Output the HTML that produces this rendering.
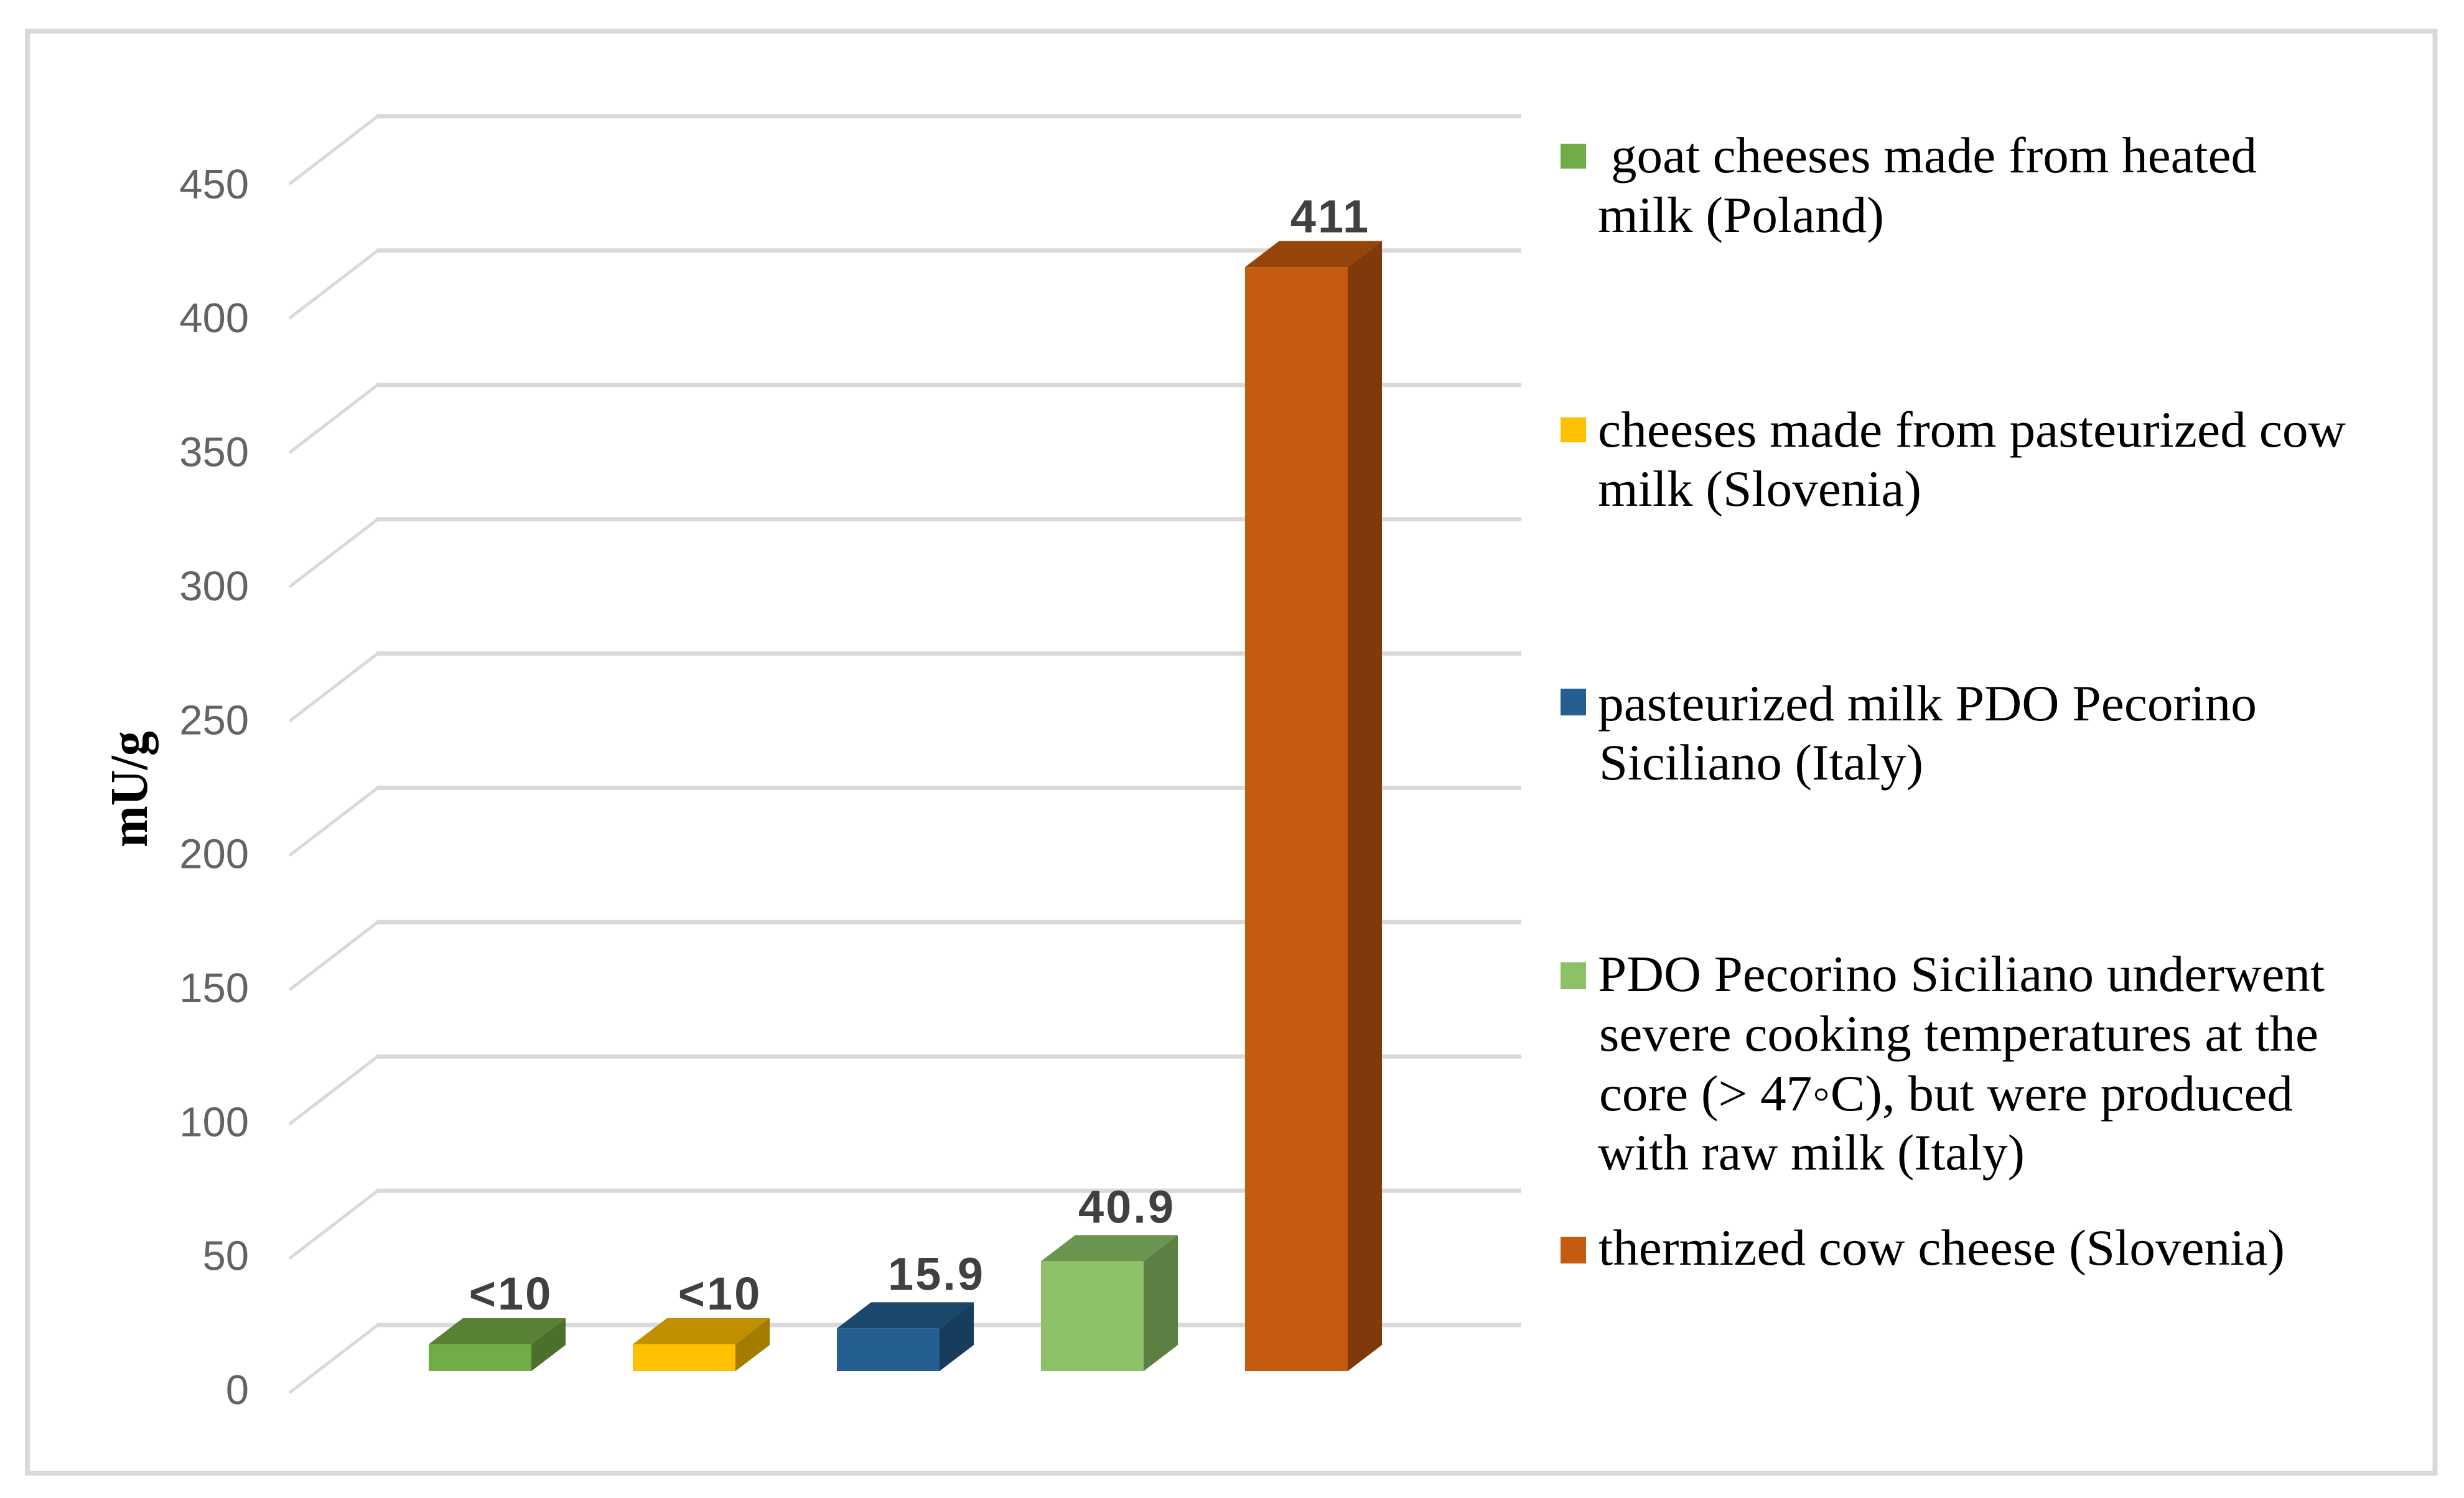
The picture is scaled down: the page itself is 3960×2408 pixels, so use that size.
<!DOCTYPE html>
<html lang="en">
<head>
<meta charset="utf-8">
<title>mU/g by cheese type</title>
<style>
html,body{margin:0;padding:0;background:#fff;width:3960px;height:2408px;overflow:hidden}
svg{display:block}
.tick{font-family:"Liberation Sans",sans-serif;font-size:67px;fill:#636363;text-anchor:end}
.dl{font-family:"Liberation Sans",sans-serif;font-size:74px;font-weight:700;fill:#404040;text-anchor:middle;letter-spacing:3px}
.lg{font-family:"Liberation Serif",serif;font-size:82px;fill:#000}
</style>
</head>
<body>
<svg id="chart" xmlns="http://www.w3.org/2000/svg" width="3960" height="2408" viewBox="0 0 3960 2408">
  <rect x="0" y="0" width="3960" height="2408" fill="#ffffff"/>
  <rect x="44" y="50" width="3869.5" height="2318" fill="#ffffff" stroke="#d9d9d9" stroke-width="8"/>
  <g id="grid"></g>
  <g id="ticks"></g>
  <g id="bars"></g>
  <g id="labels"></g>
  <text transform="translate(236 1268.5) rotate(-90)" text-anchor="middle" font-family="'Liberation Serif',serif" font-size="86" font-weight="700" fill="#000" textLength="187" lengthAdjust="spacingAndGlyphs">mU/g</text>

  <g>
    <g>
      <rect x="2508" y="231" width="41" height="40" fill="#70ad47"/>
      <text class="lg" x="2589" y="277" textLength="1038" lengthAdjust="spacingAndGlyphs">goat cheeses made from heated</text>
      <text class="lg" x="2568" y="373" textLength="460" lengthAdjust="spacingAndGlyphs">milk (Poland)</text>
    </g>
    <g>
      <rect x="2508" y="671" width="41" height="40" fill="#ffc000"/>
      <text class="lg" x="2568" y="718" textLength="1202" lengthAdjust="spacingAndGlyphs">cheeses made from pasteurized cow</text>
      <text class="lg" x="2568" y="813" textLength="520" lengthAdjust="spacingAndGlyphs">milk (Slovenia)</text>
    </g>
    <g>
      <rect x="2508" y="1107" width="41" height="43" fill="#255e91"/>
      <text class="lg" x="2568" y="1158" textLength="1059" lengthAdjust="spacingAndGlyphs">pasteurized milk PDO Pecorino</text>
      <text class="lg" x="2570" y="1253" textLength="521" lengthAdjust="spacingAndGlyphs">Siciliano (Italy)</text>
    </g>
    <g>
      <rect x="2508" y="1547" width="41" height="43" fill="#8cc168"/>
      <text class="lg" x="2568" y="1593" textLength="1168" lengthAdjust="spacingAndGlyphs">PDO Pecorino Siciliano underwent</text>
      <text class="lg" x="2570" y="1689" textLength="1156" lengthAdjust="spacingAndGlyphs">severe cooking temperatures at the</text>
      <text class="lg" x="2570" y="1785" textLength="1115" lengthAdjust="spacingAndGlyphs">core (&gt; 47◦C), but were produced</text>
      <text class="lg" x="2568" y="1880" textLength="686" lengthAdjust="spacingAndGlyphs">with raw milk (Italy)</text>
    </g>
    <g>
      <rect x="2508" y="1988" width="41" height="43" fill="#c55a11"/>
      <text class="lg" x="2569" y="2033" textLength="1103" lengthAdjust="spacingAndGlyphs">thermized cow cheese (Slovenia)</text>
    </g>
  </g>
</svg>
<script>
// Chart data
const categories = ["goat-poland", "pasteurized-cow-slovenia", "pasteurized-pecorino-italy", "raw-pecorino-italy", "thermized-cow-slovenia"];
const seriesValues = [10, 10, 15.9, 40.9, 411];
const valueLabels = ["<10", "<10", "15.9", "40.9", "411"];
const tickLabels = [0, 50, 100, 150, 200, 250, 300, 350, 400, 450];

// Face colours for each bar: front, top, side
const frontColors = ["#70ad47", "#ffc000", "#255e91", "#8cc168", "#c55a11"];
const topColors = ["#598135", "#c09000", "#1c476d", "#6b954e", "#96440c"];
const sideColors = ["#4a702c", "#a37c00", "#173c5d", "#5c7f43", "#7f390b"];

// Axis functions
const PX_PER_UNIT = 4.318;
const yBack = v => 2130 - v * PX_PER_UNIT;
const yFront = v => 2204 - v * PX_PER_UNIT;
const yTickBase = v => 2257 - v * 4.307;
const xBar = i => 689 + i * 328;
const BAR_W = 165, DEPTH_X = 55, DEPTH_Y = 42;

const NS = "http://www.w3.org/2000/svg";
function mk(tag, parent, attrs) {
  const el = document.createElementNS(NS, tag);
  for (const k in attrs) el.setAttribute(k, attrs[k]);
  parent.appendChild(el);
  return el;
}
const gridG = document.getElementById("grid");
const tickG = document.getElementById("ticks");
const barG = document.getElementById("bars");
const labelG = document.getElementById("labels");

tickLabels.forEach(t => {
  const y = yBack(t);
  const diag = mk("line", gridG, {x1: 465, y1: y + 109, x2: 607, y2: y, stroke: "#d9d9d9", "stroke-width": 5});
  
  
  const line = mk("line", gridG, {x1: 605, y1: y, x2: 2445, y2: y, stroke: "#d9d9d9", "stroke-width": 7});
  
  
  const txt = mk("text", tickG, {class: "tick", x: 400, y: yTickBase(t)});
  txt.textContent = String(t);
  
  
});

seriesValues.forEach((v, i) => {
  const x = xBar(i), x2 = x + BAR_W, yt = yFront(v), yb = yFront(0);
  const bar = mk("g", barG, {});
  
  
  const top = mk("polygon", bar, {
    points: [[x, yt], [x2, yt], [x2 + DEPTH_X, yt - DEPTH_Y], [x + DEPTH_X, yt - DEPTH_Y]].join(" "),
    fill: topColors[i]
  });
  
  
  const side = mk("polygon", bar, {
    points: [[x2, yt], [x2 + DEPTH_X, yt - DEPTH_Y], [x2 + DEPTH_X, yb - DEPTH_Y], [x2, yb]].join(" "),
    fill: sideColors[i]
  });
  
  
  const front = mk("rect", bar, {x: x, y: yt, width: BAR_W, height: yb - yt, fill: frontColors[i]});
  
  

  const lift = (i === 2 || i === 3) ? 20 : 14;
  const shift = i === 0 ? 132 : i === 1 ? 140 : i === 2 ? 160 : i === 3 ? 138 : 137;
  const lab = mk("text", labelG, {class: "dl", x: x + shift, y: yt - DEPTH_Y - lift});
  lab.textContent = valueLabels[i];
  
  
});
</script>
</body>
</html>
